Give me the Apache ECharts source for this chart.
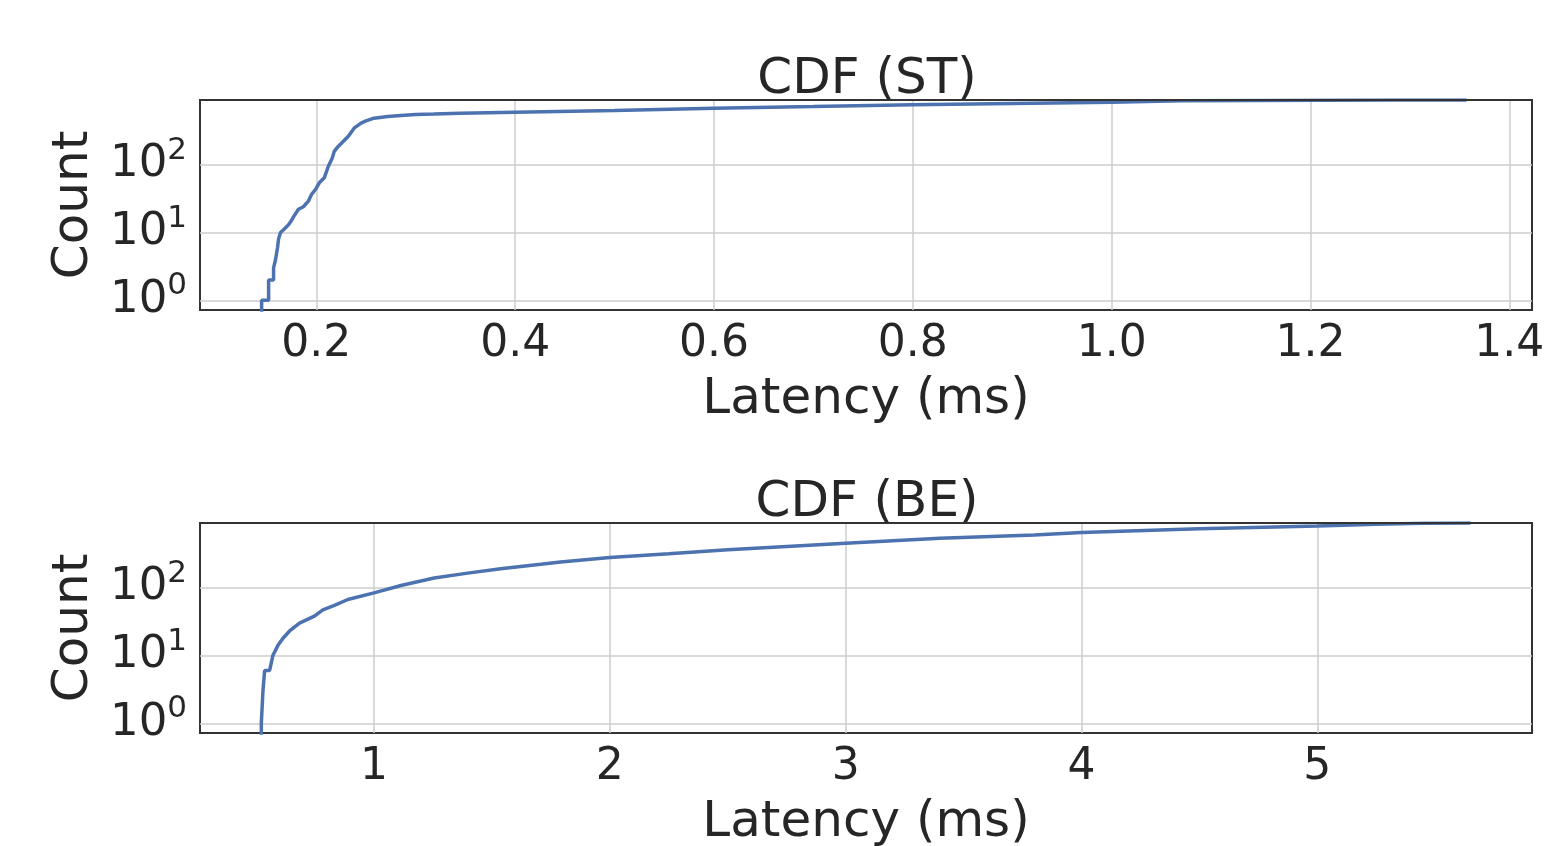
<!DOCTYPE html>
<html>
<head>
<meta charset="utf-8">
<script src="https://cdn.jsdelivr.net/npm/echarts@6/dist/echarts.min.js"></script>
<style>
  html, body { margin: 0; padding: 0; background: #fff; }
  #chart { width: 1544px; height: 846px; }
</style>
</head>
<body>
<div id="chart"></div>
<script>
// ST latency CDF (ms -> cumulative count); the first few pairs are the visible stair corners
var stLatency = [0.145, 0.145, 0.152, 0.152, 0.157, 0.157, 0.159, 0.159, 0.161, 0.162, 0.164, 0.167,
  0.172, 0.175, 0.177, 0.182, 0.187, 0.192, 0.195, 0.200, 0.203, 0.208, 0.212, 0.216, 0.218,
  0.222, 0.227, 0.232, 0.238, 0.245, 0.250, 0.258, 0.272, 0.285, 0.300, 0.318, 0.345, 0.400,
  0.500, 0.600, 0.700, 0.800, 0.900, 1.000, 1.070, 1.150, 1.210, 1.290, 1.357];
var stCount = [0.1, 1, 1, 2, 2, 3, 3, 4, 6, 8, 10, 11,
  13, 15, 17, 22, 24, 29, 36, 45, 54, 64, 94, 125, 157,
  186, 220, 261, 346, 410, 444, 486, 513, 531, 550, 558, 576, 596,
  629, 682, 720, 763, 800, 836, 875, 888, 895, 898, 900];

// BE latency CDF
var beLatency = [0.522, 0.522, 0.529, 0.529, 0.536, 0.536, 0.557, 0.571, 0.592, 0.614, 0.642, 0.684,
  0.747, 0.783, 0.832, 0.889, 1.000, 1.114, 1.255, 1.397, 1.537, 1.707, 1.791, 2.000, 2.250,
  2.500, 2.750, 3.000, 3.400, 3.800, 4.000, 4.500, 5.000, 5.250, 5.450, 5.650];
var beCount = [0.1, 1, 1, 3, 3, 6, 6, 10, 14, 18, 23, 30,
  38, 47, 55, 67, 84, 108, 139, 164, 190, 221, 240, 278, 316,
  362, 405, 454, 538, 600, 650, 738, 816, 864, 894, 900];

var stTicks = [0.2, 0.4, 0.6, 0.8, 1.0, 1.2, 1.4];
var beTicks = [1, 2, 3, 4, 5];
var countTicks = [1, 10, 100];

var titles = ['CDF (ST)', 'CDF (BE)'];
var xName = 'Latency (ms)';
var yName = 'Count';

var FONT = 'DejaVu Sans';
var INK = '#262626';
var LINE = '#4C72B0';

function pairs(xs, ys) {
  return xs.map(function (x, i) { return [x, ys[i]]; });
}

function xAxisFor(idx, min, max, ticks, split, fmt) {
  return {
    type: 'value', gridIndex: idx, min: min, max: max, splitNumber: split,
    name: xName, nameLocation: 'middle', nameGap: 65,
    nameTextStyle: { fontFamily: FONT, fontSize: 50, color: INK },
    axisLine: { show: false },
    axisTick: { show: false },
    axisLabel: {
      customValues: ticks, margin: 13, fontFamily: FONT, fontSize: 44, color: INK,
      formatter: fmt
    },
    splitLine: { show: true, showMinLine: false, showMaxLine: false,
      lineStyle: { color: '#cccccc', width: 1.5 } }
  };
}

function yAxisFor(idx) {
  return {
    type: 'log', logBase: 10, gridIndex: idx, min: 0.72, max: 900,
    name: yName, nameLocation: 'middle', nameGap: 93,
    nameTextStyle: { fontFamily: FONT, fontSize: 50, color: INK },
    axisLine: { show: false },
    axisTick: { show: false },
    axisLabel: {
      customValues: countTicks, margin: 13, color: INK,
      formatter: function (v) {
        return '{b|10}{s|' + Math.round(Math.log10(v)) + '}';
      },
      rich: {
        b: { fontFamily: FONT, fontSize: 45, color: INK, padding: [7, 0, 7, 0] },
        s: { fontFamily: FONT, fontSize: 31, color: INK, verticalAlign: 'top' }
      }
    },
    splitLine: { show: true, showMinLine: false, showMaxLine: false,
      lineStyle: { color: '#cccccc', width: 1.5 } }
  };
}

// top spine drawn above the series, like matplotlib
function topSpine(idx, min, max) {
  return {
    type: 'value', gridIndex: idx, position: 'top', min: min, max: max, z: 5,
    axisLine: { show: true, lineStyle: { color: '#333333', width: 2 } },
    axisTick: { show: false }, axisLabel: { show: false }, splitLine: { show: false }
  };
}

var chart = echarts.init(document.getElementById('chart'));
chart.setOption({
  animation: false,
  backgroundColor: '#ffffff',
  title: titles.map(function (t, i) {
    return {
      text: t, left: 862, textAlign: 'center', top: i === 0 ? 50 : 473,
      textStyle: { fontFamily: FONT, fontSize: 50, fontWeight: 'normal', color: INK }
    };
  }),
  grid: [
    { left: 200, top: 100, width: 1332, height: 210, outerBoundsMode: 'none', show: true,
      borderColor: '#333333', borderWidth: 2, backgroundColor: 'transparent' },
    { left: 200, top: 523, width: 1332, height: 210, outerBoundsMode: 'none', show: true,
      borderColor: '#333333', borderWidth: 2, backgroundColor: 'transparent' }
  ],
  xAxis: [
    xAxisFor(0, 0.083, 1.4228, stTicks, 7, function (v) { return v.toFixed(1); }),
    xAxisFor(1, 0.262, 5.9105, beTicks, 5, function (v) { return String(Math.round(v)); }),
    topSpine(0, 0.083, 1.4228),
    topSpine(1, 0.262, 5.9105)
  ],
  yAxis: [yAxisFor(0), yAxisFor(1)],
  series: [
    {
      type: 'line', xAxisIndex: 0, yAxisIndex: 0, showSymbol: false, clip: true,
      lineStyle: { color: LINE, width: 3.5 }, data: pairs(stLatency, stCount)
    },
    {
      type: 'line', xAxisIndex: 1, yAxisIndex: 1, showSymbol: false, clip: true,
      lineStyle: { color: LINE, width: 3.5 }, data: pairs(beLatency, beCount)
    }
  ]
});
</script>
</body>
</html>
